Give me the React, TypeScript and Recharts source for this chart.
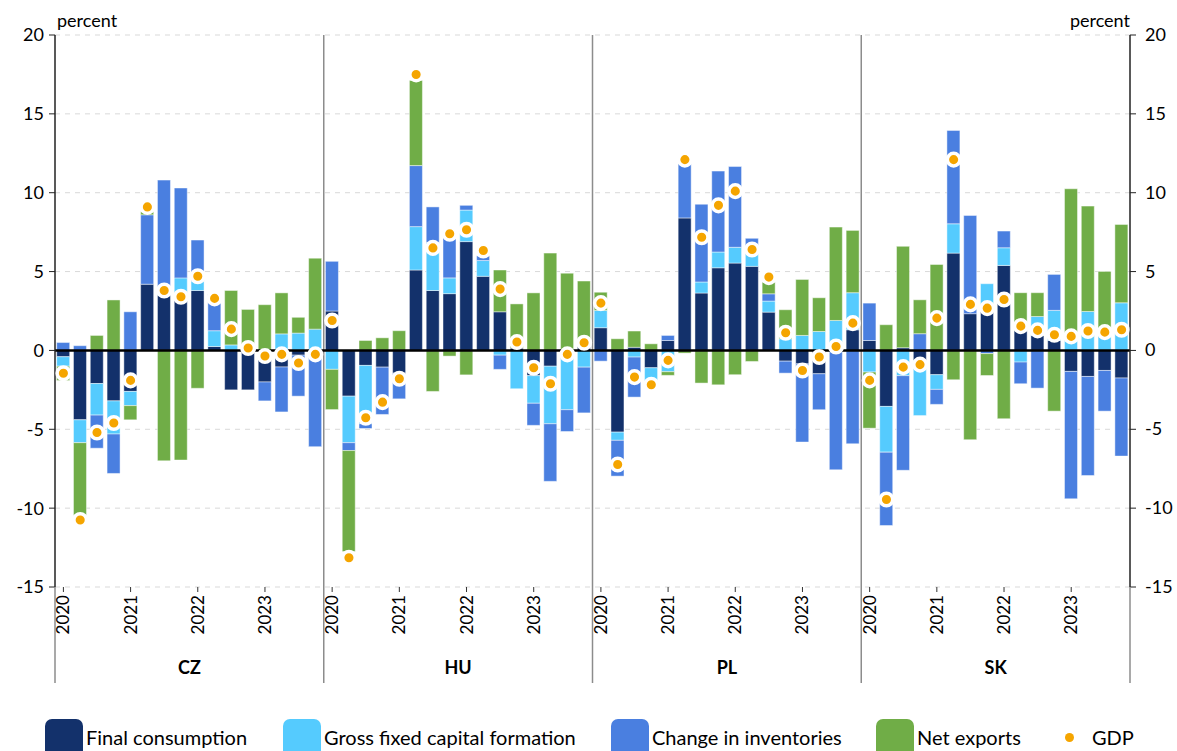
import React from 'react';
import {
  ComposedChart, Bar, Line, XAxis, YAxis, CartesianGrid, ReferenceLine, Label,
} from 'recharts';

// ---------- data ----------
const COUNTRIES = ['CZ', 'HU', 'PL', 'SK'];
const YEARS = ['2020', '2021', '2022', '2023'];
const QUARTERS = ['Q1', 'Q2', 'Q3', 'Q4'];
const Y_TICKS = [-15, -10, -5, 0, 5, 10, 15, 20];

// 16 quarters per country, 2020Q1..2023Q4, order CZ, HU, PL, SK
const FINAL_CONSUMPTION = [
  -0.4, -4.4, -2.1, -3.2, -2.6, 4.2, 3.5, 3.3, 3.8, 0.25, -2.5, -2.5, -2.0, -1.05, -0.3, 0,
  2.5, -2.9, -0.95, -1.06, -1.44, 5.1, 3.8, 3.6, 6.9, 4.7, 2.45, 0.15, -1.6, -1.0, 0, 0.3,
  1.44, -5.18, 0.2, -1.1, 0.63, 8.4, 3.64, 5.24, 5.54, 5.33, 2.43, -0.68, -0.85, -1.48, 0, 1.31,
  0.63, -3.55, 0.17, -0.63, -1.54, 6.17, 2.33, 2.7, 5.39, 1.25, 0.95, 0.63, -1.33, -1.65, -1.27, -1.75,
];
const GROSS_FIXED_CAPITAL = [
  -0.6, -1.45, -2.0, -2.1, -0.9, 0, 0.3, 1.3, 0.6, 1.0, 0.35, 0, 0, 1.05, 1.1, 1.35,
  -1.2, -2.95, -3.7, 0, 0, 2.75, 3.05, 1.0, 2.0, 1.0, -0.3, -2.43, -1.75, -3.65, -3.76, -1.06,
  1.1, -0.52, -0.42, -1.3, -1.35, 0, 0.7, 1.0, 1.0, 1.0, 0.7, 0.74, 0.95, 1.2, 1.9, 2.35,
  -1.37, -2.9, -1.6, -3.5, -0.93, 1.86, 0, 1.53, 1.12, -0.74, 1.2, 1.91, 0.6, 2.47, 1.4, 3.02,
];
const CHANGE_IN_INVENTORIES = [
  0.5, 0.3, -2.1, -2.5, 2.45, 4.4, 7.0, 5.7, 2.6, 2.3, 0, 0, -1.2, -2.85, -2.6, -6.1,
  3.15, -0.5, -0.3, -3.0, -1.63, 3.87, 2.25, 2.6, 0.3, 0.3, -0.9, 0, -1.4, -3.65, -1.38, -2.9,
  -0.68, -2.27, -2.54, 0, 0.32, 3.45, 4.93, 5.13, 5.12, 0.78, 0.46, -0.76, -4.96, -2.28, -7.57, -5.92,
  2.37, -4.65, -6.0, 1.06, -0.95, 5.92, 6.23, -0.2, 1.06, -1.37, -2.39, 2.28, -8.08, -6.28, -2.58, -4.95,
];
const NET_EXPORTS = [
  -0.9, -4.6, 0.95, 3.2, -0.9, 0.2, -7.0, -6.95, -2.4, 0, 3.45, 2.6, 2.9, 2.6, 1.0, 4.5,
  -2.55, -6.4, 0.63, 0.8, 1.25, 5.4, -2.6, -0.36, -1.55, 0, 2.65, 2.8, 3.65, 6.17, 4.9, 4.1,
  1.15, 0.74, 1.03, 0.42, -0.23, -0.17, -2.07, -2.18, -1.54, -0.7, 0.74, 1.84, 3.55, 2.14, 5.92, 3.95,
  -3.56, 1.63, 6.43, 2.15, 5.45, -1.86, -5.66, -1.39, -4.33, 2.41, 1.51, -3.85, 9.65, 6.68, 3.61, 4.97,
];
const GDP = [
  -1.45, -10.75, -5.2, -4.6, -1.9, 9.1, 3.8, 3.4, 4.7, 3.3, 1.35, 0.15, -0.35, -0.25, -0.8, -0.25,
  1.9, -13.15, -4.27, -3.28, -1.8, 17.5, 6.5, 7.4, 7.65, 6.34, 3.89, 0.53, -1.1, -2.11, -0.25, 0.49,
  3.0, -7.23, -1.69, -2.18, -0.63, 12.1, 7.18, 9.2, 10.1, 6.4, 4.65, 1.12, -1.27, -0.42, 0.25, 1.73,
  -1.9, -9.45, -1.06, -0.9, 2.05, 12.1, 2.92, 2.68, 3.23, 1.54, 1.27, 0.99, 0.89, 1.23, 1.16, 1.31,
];

const SERIES = [
  { key: 'fc', name: 'Final consumption', color: '#13316B', values: FINAL_CONSUMPTION },
  { key: 'gfcf', name: 'Gross fixed capital formation', color: '#55CBFE', values: GROSS_FIXED_CAPITAL },
  { key: 'ci', name: 'Change in inventories', color: '#4A7FE0', values: CHANGE_IN_INVENTORIES },
  { key: 'nx', name: 'Net exports', color: '#70AD47', values: NET_EXPORTS },
];
const GDP_COLOR = '#F5A500';

const data: any[] = [];
COUNTRIES.forEach((c, ci) =>
  YEARS.forEach((y, yi) =>
    QUARTERS.forEach((q, qi) => {
      const i = ci * 16 + yi * 4 + qi;
      const row: any = { key: `${c}-${y}${q}`, country: c, year: y, q: qi, gdp: GDP[i] };
      SERIES.forEach((s) => { row[s.key] = s.values[i]; });
      data.push(row);
    }),
  ),
);

// ---------- layout ----------
const W = 1177;
const H = 751;
const LEFT_W = 55;
const RIGHT_W = 47;
const TOP = 35;
const X_AXIS_H = 100;
const BOTTOM = 64;
const PLOT_W = W - LEFT_W - RIGHT_W;
const BAND = PLOT_W / data.length;
const FONT = 'Lato, "Open Sans", sans-serif';
const PANEL_LINE = '#8c8c8c';

function XTick(props: any) {
  const { x, y } = props;
  const index = props.index ?? props.payload?.index ?? 0;
  const row = data[index];
  if (!row) return null;
  const pos = index % 16;
  const half = BAND / 2;
  const els: any[] = [];
  if (pos === 0) {
    els.push(<line key="d" x1={x - half} x2={x - half} y1={y} y2={y + 96} stroke={PANEL_LINE} strokeWidth={1.5} />);
  }
  if (index === data.length - 1) {
    els.push(<line key="e" x1={x + half} x2={x + half} y1={y} y2={y + 96} stroke={PANEL_LINE} strokeWidth={1.5} />);
  }
  if (row.q === 0) {
    els.push(<line key="t" x1={x} x2={x} y1={y} y2={y + 5} stroke="#333" strokeWidth={1} />);
    els.push(
      <text key="y" x={x + 6} y={y + 8} transform={`rotate(-90, ${x + 6}, ${y + 8})`}
        textAnchor="end" fontSize={17} fill="#000" fontFamily={FONT}>{row.year}</text>,
    );
  }
  if (pos === 8) {
    els.push(
      <text key="c" x={x - half} y={y + 87} textAnchor="middle" fontSize={18}
        fontWeight="bold" fill="#000" fontFamily={FONT}>{row.country}</text>,
    );
  }
  return <g>{els}</g>;
}

function RightTick(props: any) {
  const { x, y, payload } = props;
  return (
    <text x={x} y={y} dy={6} textAnchor="start" fontSize={18} fill="#000" fontFamily={FONT}>{payload.value}</text>
  );
}

const LEGEND_POS = [45, 283, 611, 876];

function LegendBlock() {
  return (
    <div style={{ position: 'absolute', left: 0, top: 0, width: W, height: H, pointerEvents: 'none' }}>
      {SERIES.map((s, i) => (
        <div key={s.key} style={{ position: 'absolute', left: LEGEND_POS[i], top: 719, display: 'flex' }}>
          <div style={{ width: 38, height: 40, background: s.color, borderRadius: '7px 7px 0 0' }} />
          <div style={{ marginLeft: 3, marginTop: 6, fontSize: 20, fontFamily: FONT, color: '#000', whiteSpace: 'nowrap' }}>{s.name}</div>
        </div>
      ))}
      <div style={{ position: 'absolute', left: 1065, top: 719, display: 'flex' }}>
        <div style={{ width: 9, height: 9, borderRadius: 5, background: GDP_COLOR, marginTop: 14 }} />
        <div style={{ marginLeft: 18, marginTop: 6, fontSize: 20, fontFamily: FONT, color: '#000' }}>GDP</div>
      </div>
    </div>
  );
}

export default function App() {
  return (
    <div style={{ position: 'absolute', left: 0, top: 0, width: W, height: H, overflow: 'hidden', background: '#fff', fontFamily: FONT }}>
      <ComposedChart width={W} height={H} data={data} stackOffset="sign" barCategoryGap="10%"
        margin={{ top: TOP, right: 0, bottom: BOTTOM, left: 0 }}>
        <CartesianGrid yAxisId="left" vertical={false} stroke="#d9d9d9" strokeDasharray="5 5" />
        <XAxis dataKey="key" interval={0} height={X_AXIS_H} axisLine={false} tickLine={false}
          tickSize={0} tickMargin={0} tick={<XTick />} />
        <YAxis yAxisId="left" domain={[-15, 20]} ticks={Y_TICKS} width={LEFT_W} interval={0}
          axisLine={{ stroke: '#222', strokeWidth: 1.5 }} tickLine={{ stroke: '#222' }} tickSize={6} tickMargin={5}
          tick={{ fontSize: 18, fill: '#000', fontFamily: FONT }}>
          <Label content={(p: any) => (
            <text x={p.viewBox.x + p.viewBox.width + 2} y={p.viewBox.y - 8} fontSize={18} fill="#000" fontFamily={FONT}>percent</text>
          )} />
        </YAxis>
        <YAxis yAxisId="right" orientation="right" domain={[-15, 20]} ticks={Y_TICKS} width={RIGHT_W} interval={0}
          allowDataOverflow
          axisLine={{ stroke: '#222', strokeWidth: 1.5 }} tickLine={{ stroke: '#222' }} tickSize={6} tickMargin={9}
          tick={<RightTick />}>
          <Label content={(p: any) => (
            <text x={p.viewBox.x} y={p.viewBox.y - 8} textAnchor="end" fontSize={18} fill="#000" fontFamily={FONT}>percent</text>
          )} />
        </YAxis>
        {[16, 32, 48].map((i) => (
          <ReferenceLine key={i} yAxisId="left" x={data[i].key} position="start" stroke={PANEL_LINE} strokeWidth={1.5} />
        ))}
        {SERIES.map((s) => (
          <Bar key={s.key} yAxisId="left" dataKey={s.key} name={s.name} stackId="a" fill={s.color}
            stroke="#ffffff" strokeOpacity={0.45} strokeWidth={1} isAnimationActive={false} />
        ))}
        <ReferenceLine yAxisId="left" y={0} stroke="#000" strokeWidth={2.5} />
        <Line yAxisId="right" dataKey="gdp" stroke="none" dot={false} activeDot={false}
          legendType="none" isAnimationActive={false} />
        <Line yAxisId="left" dataKey="gdp" name="GDP" stroke="none" isAnimationActive={false}
          dot={{ r: 6.3, fill: GDP_COLOR, stroke: '#fff', strokeWidth: 3.5 }} activeDot={false} />
      </ComposedChart>
      <LegendBlock />
    </div>
  );
}
